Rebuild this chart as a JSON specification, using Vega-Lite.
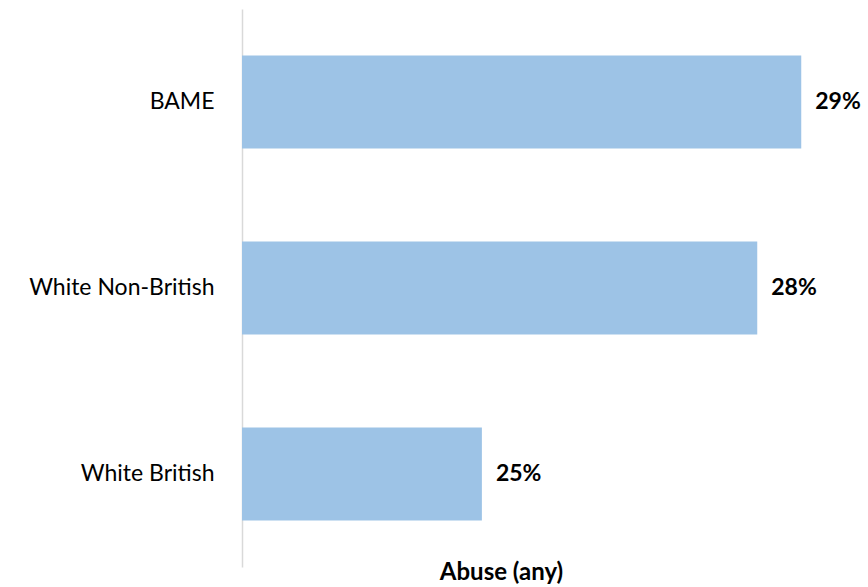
{
  "$schema": "https://vega.github.io/schema/vega-lite/v6.json",
  "width": 620,
  "height": 558,
  "autosize": {"type": "none"},
  "padding": {"left": 242, "top": 9, "right": 6, "bottom": 20},
  "background": "white",
  "config": {
    "view": {"stroke": null},
    "font": "Lato",
    "text": {"font": "Lato"}
  },
  "data": {
    "values": [
      {"group": "BAME", "abuse": 0.2905},
      {"group": "White Non-British", "abuse": 0.2843},
      {"group": "White British", "abuse": 0.2455}
    ]
  },
  "encoding": {
    "y": {
      "field": "group",
      "type": "nominal",
      "sort": null,
      "scale": {"paddingInner": 0.5, "paddingOuter": 0.25},
      "axis": {
        "title": null,
        "ticks": false,
        "domainColor": "#d9d9d9",
        "domainWidth": 1.5,
        "labelFont": "Lato",
        "labelFontSize": 23,
        "labelColor": "#000000",
        "labelPadding": 28,
        "labelLimit": 0
      }
    },
    "x": {
      "field": "abuse",
      "type": "quantitative",
      "scale": {"domain": [0.2117, 0.29906], "zero": false, "nice": false, "clamp": true},
      "axis": {
        "title": "Abuse (any)",
        "titleFont": "Lato",
        "titleFontSize": 24,
        "titleFontWeight": "bold",
        "titleColor": "#000000",
        "titleX": 259,
        "titleY": 12,
        "titleBaseline": "alphabetic",
        "titleAnchor": "middle",
        "labels": false,
        "ticks": false,
        "domain": false,
        "grid": false
      }
    }
  },
  "layer": [
    {"mark": {"type": "bar", "color": "#9dc3e6"}},
    {
      "mark": {"type": "text", "align": "left", "baseline": "middle", "dx": 14, "fontWeight": "bold", "fontSize": 23, "color": "#000000", "font": "Lato"},
      "encoding": {"text": {"field": "abuse", "type": "quantitative", "format": ".0%"}}
    }
  ]
}
